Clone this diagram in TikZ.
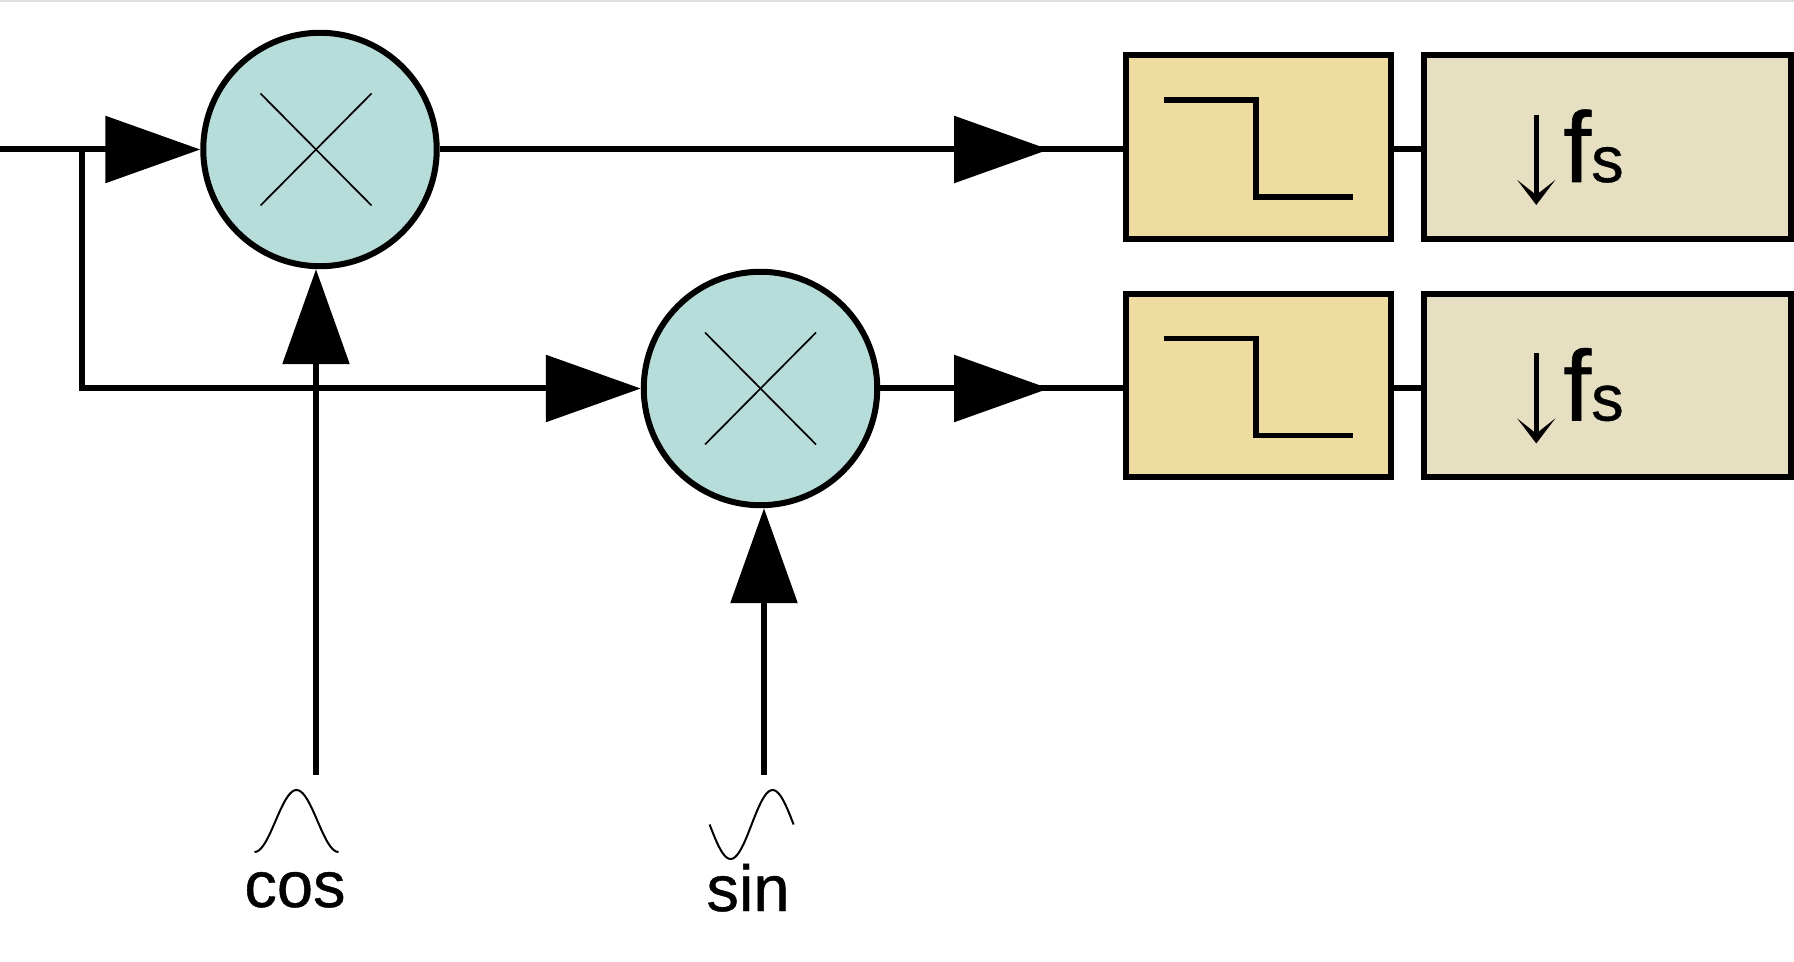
\documentclass[tikz,border=0pt]{standalone}
\usepackage{fontspec}
\setmainfont{Liberation Sans}
\newfontfamily\sigfont{Liberation Sans}[FakeBold=0.6]
\usetikzlibrary{arrows.meta}
\begin{document}
\begin{tikzpicture}[x=0.02cm,y=-0.02cm]
\tikzset{
mixer/.style={circle,draw,fill=mixcol,minimum size=4.67cm,inner sep=0pt,line width=0.12cm},
lpf/.style={rectangle,draw,fill=lpfcol,minimum width=5.32cm,minimum height=3.68cm,inner sep=0pt,line width=0.12cm},
decim/.style={rectangle,draw,fill=deccol,minimum width=7.35cm,minimum height=3.68cm,inner sep=0pt,line width=0.12cm},
sig/.style={line width=0.12cm},
edge/.style={sig,-{Triangle[length=1.9cm,width=1.32cm]}},
thin cross/.style={line width=0.034cm},
wave/.style={line width=0.04cm},
stepline/.style={line width=0.11cm},
lowered/.style={line width=0.11cm,-{Stealth[length=0.5cm,width=0.76cm,inset=0.3cm]}},
label/.style={inner sep=0pt,anchor=base,font={\sigfont\fontsize{37}{40}\selectfont}},
ratelabel/.style={inner sep=0pt,anchor=base west,font=\sigfont}
}
\definecolor{mixcol}{HTML}{B7DDDA}
\definecolor{lpfcol}{HTML}{EEDCA0}
\definecolor{deccol}{HTML}{E6DFC2}

\useasboundingbox (0,0) rectangle (1794,962);
\draw[gray!25,line width=0.04cm] (0,1) -- (1794,1);

\node[mixer] (mixer1) at (320,149.5) {};
\node[mixer] (mixer2) at (760.5,388.5) {};
\node[lpf] (lpf1) at (1258.5,147) {};
\node[lpf] (lpf2) at (1258.5,385.5) {};
\node[decim] (dec1) at (1607.25,147) {};
\node[decim] (dec2) at (1607.25,385.5) {};

\coordinate (in) at (0,149.5);
\coordinate (split) at (81.5,149.5);
\coordinate (mid1) at (1049,149.5);
\coordinate (mid2) at (1049,388.5);
\coordinate (cosin) at (316,775);
\coordinate (sinin) at (764,775);
\coordinate (out1) at (1794,149.5);
\coordinate (out2) at (1794,388.5);

\node[label] (coslabel) at (295,907) {cos};
\node[label] (sinlabel) at (748,911) {sin};
\node[ratelabel] (rate1) at (1563,182) {\fontsize{57}{60}\selectfont f\fontsize{37}{40}\selectfont s};
\node[ratelabel] (rate2) at (1563,420.5) {\fontsize{57}{60}\selectfont f\fontsize{37}{40}\selectfont s};

\path[sig]
 (mixer1) edge (mid1 -| lpf1.west)
 (mixer2) edge (mid2 -| lpf2.west)
 (lpf1.east |- mid1) edge (dec1.west |- mid1)
 (lpf2.east |- mid2) edge (dec2.west |- mid2)
 (dec1.east |- out1) edge (out1)
 (dec2.east |- out2) edge (out2)
;

\draw[edge] (in) -- (mixer1);
\draw[edge] (split) |- (mixer2);
\draw[edge] (mixer1) -- (mid1);
\draw[edge] (mixer2) -- (mid2);
\draw[edge] (cosin) -- (cosin |- mixer1.south);
\draw[edge] (sinin) -- (sinin |- mixer2.south);

\draw[thin cross] ([shift={(-59.5,-56)}]mixer1.center) -- ([shift={(51.5,56)}]mixer1.center);
\draw[thin cross] ([shift={(-59.5,56)}]mixer1.center) -- ([shift={(51.5,-56)}]mixer1.center);
\draw[thin cross] ([shift={(-55.5,-56)}]mixer2.center) -- ([shift={(55.5,56)}]mixer2.center);
\draw[thin cross] ([shift={(-55.5,56)}]mixer2.center) -- ([shift={(55.5,-56)}]mixer2.center);

\draw[stepline] ([shift={(-94.5,-47)}]lpf1.center) -- ++(92,0) -- ++(0,97) -- ++(97,0);
\draw[stepline] ([shift={(-94.5,-47)}]lpf2.center) -- ++(92,0) -- ++(0,97) -- ++(97,0);

\draw[lowered] ([shift={(-71,-32)}]dec1.center) -- ([shift={(-71,58)}]dec1.center);
\draw[lowered] ([shift={(-71,-32)}]dec2.center) -- ([shift={(-71,58)}]dec2.center);

\draw[wave] plot[domain=-180:180,samples=41,smooth] ({296.5+\x/180*42},{821-31*cos(\x)});
\draw[wave] plot[domain=0:360,samples=41,smooth] ({709.6+\x/360*84},{824.5+34.5*sin(\x)});
\end{tikzpicture}
\end{document}
